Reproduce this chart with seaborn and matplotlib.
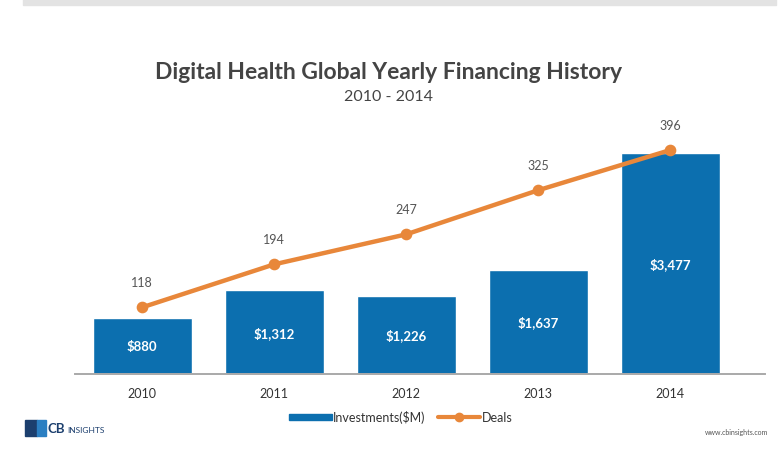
import numpy as np
import pandas as pd
import matplotlib.pyplot as plt
import seaborn as sns
from matplotlib.patches import Rectangle
from matplotlib.lines import Line2D

sns.set_theme(style="white")
plt.rcParams['font.family'] = ['Lato', 'DejaVu Sans']

## data
years = ['2010', '2011', '2012', '2013', '2014']
investments = [880, 1312, 1226, 1637, 3477]
deals = [118, 194, 247, 325, 396]
inv_labels = ['$880', '$1,312', '$1,226', '$1,637', '$3,477']

bar_col = '#0C6FAF'
line_col = '#E8873A'
txt_col = '#444444'

df = pd.DataFrame({'year': years, 'inv': investments, 'deals': deals})

fig = plt.figure(figsize=(7.78, 4.77), dpi=100)
ax = fig.add_axes([0.0964, 0.2138, 0.887, 0.5346])

sns.barplot(data=df, x='year', y='inv', color=bar_col, saturation=1,
            width=0.75, ax=ax)
ax.set_ylim(0, 4003)
ax.set_xlim(-0.51, 4.72)

for i, p in enumerate(ax.patches):
    ax.text(p.get_x() + p.get_width() / 2, p.get_height() / 2, inv_labels[i],
            ha='center', va='center', color='white', fontsize=9.5, fontweight='bold')

ax2 = ax.twinx()
sns.pointplot(data=df, x='year', y='deals', color=line_col, ax=ax2,
              markers='o', markersize=6, linewidth=3.2)
ax2.set_ylim(0, 451)
ax2.set_xlim(-0.51, 4.72)
for i, d in enumerate(deals):
    ax2.annotate(str(d), (i, d), xytext=(0, 14), textcoords='offset points',
                 ha='center', va='bottom', color='#555555', fontsize=9)

for a in (ax, ax2):
    for s in ['top', 'right', 'left']:
        a.spines[s].set_visible(False)
    a.spines['bottom'].set_color('#aaaaaa')
    a.set_xlabel('')
    a.set_ylabel('')
    a.set_yticks([])
ax.tick_params(axis='x', length=0, pad=9, labelsize=9, labelcolor='#333333')
ax2.tick_params(axis='x', length=0)

## titles
fig.text(0.5, 0.848, 'Digital Health Global Yearly Financing History', ha='center',
         va='center', fontsize=16.5, fontweight='bold', color=txt_col)
fig.text(0.5, 0.797, '2010 - 2014', ha='center', va='center', fontsize=11.5, color=txt_col)

## top gray strip
fig.patches.append(Rectangle((0.03, 0.988), 0.967, 0.012, transform=fig.transFigure,
                             color='#e3e3e3', zorder=0))

## legend
handles = [Rectangle((0, 0), 1, 1, color=bar_col),
           Line2D([0], [0], color=line_col, lw=3, marker='o', markersize=6)]
fig.legend(handles, ['Investments($M)', 'Deals'], loc='center', bbox_to_anchor=(0.515, 0.124),
           ncol=2, frameon=False, fontsize=9, handlelength=3.4, handleheight=0.45,
           columnspacing=1.0, handletextpad=0.1, labelcolor='#333333')

## logo + url
fig.patches.append(Rectangle((0.032, 0.083), 0.016, 0.035, transform=fig.transFigure,
                             color='#1c3f6e'))
fig.patches.append(Rectangle((0.048, 0.083), 0.011, 0.035, transform=fig.transFigure,
                             color='#2b7fc2'))
fig.text(0.061, 0.1, 'CB', fontsize=9.5, fontweight='bold', color='#1c3f6e', va='center')
fig.text(0.086, 0.098, 'INSIGHTS', fontsize=6, color='#1c3f6e', va='center')
fig.text(0.988, 0.094, 'www.cbinsights.com', fontsize=5, color='#555555', ha='right', va='center')

fig.savefig('out.png', dpi=100)
